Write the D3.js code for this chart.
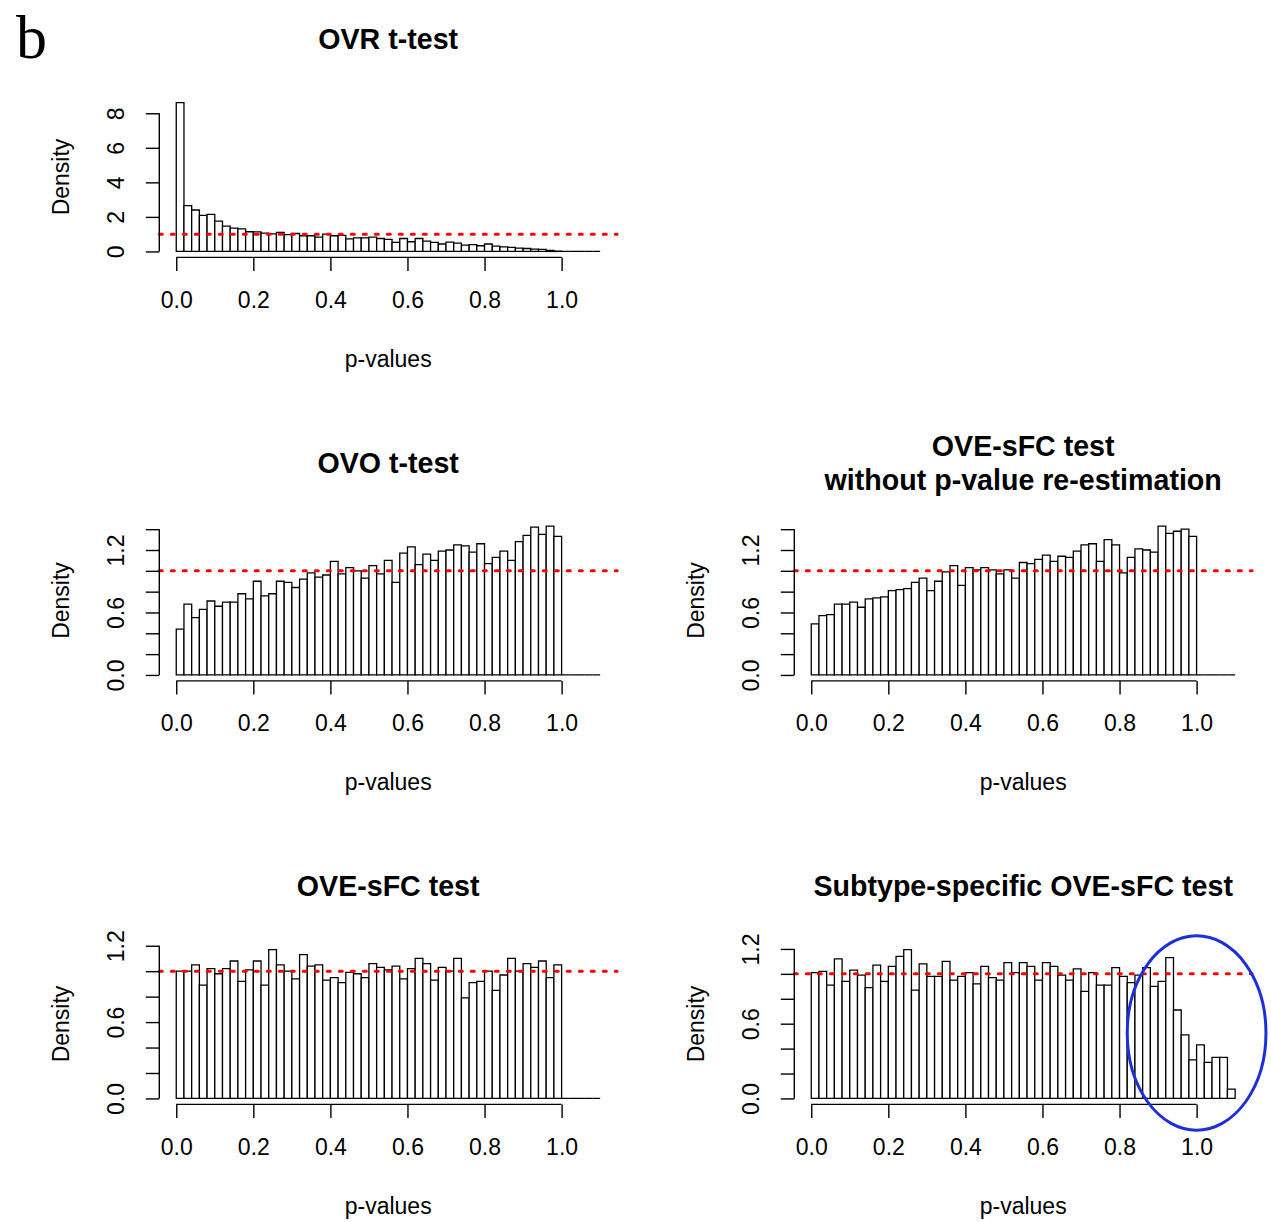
<!DOCTYPE html>
<html>
<head>
<meta charset="utf-8">
<script src="https://cdn.jsdelivr.net/npm/d3@7"></script>
<style>
  body { margin: 0; background: #fff; }
  svg { display: block; }
</style>
</head>
<body>
<svg id="fig" width="1271" height="1222"></svg>
<script>
// Histogram densities of p-values, bins of width 0.02 covering [0, 1.1]
const binWidth = 0.02;

const ovrTtest = [8.62, 2.65, 2.40, 2.09, 2.15, 1.76, 1.47, 1.35, 1.31, 1.14,
  1.13, 1.06, 1.02, 1.10, 0.97, 1.04, 0.91, 0.91, 0.83, 1.00,
  0.91, 0.93, 0.73, 0.79, 0.79, 0.83, 0.75, 0.70, 0.52, 0.75,
  0.56, 0.75, 0.60, 0.52, 0.43, 0.54, 0.48, 0.37, 0.39, 0.33,
  0.43, 0.31, 0.27, 0.23, 0.19, 0.17, 0.14, 0.12, 0.06, 0.02,
  0, 0, 0, 0, 0];

const ovoTtest = [0.44, 0.68, 0.55, 0.63, 0.71, 0.66, 0.70, 0.70, 0.78, 0.73,
  0.90, 0.76, 0.78, 0.90, 0.89, 0.84, 0.92, 0.98, 0.94, 0.96,
  1.09, 0.97, 1.03, 1.00, 0.93, 1.05, 0.97, 1.10, 0.89, 1.17,
  1.23, 1.06, 1.16, 1.10, 1.19, 1.20, 1.25, 1.24, 1.18, 1.26,
  1.07, 1.13, 1.19, 1.10, 1.28, 1.34, 1.42, 1.35, 1.43, 1.33,
  0, 0, 0, 0, 0];

const oveNoReestimation = [0.49, 0.57, 0.58, 0.68, 0.68, 0.70, 0.65, 0.73, 0.74, 0.75,
  0.81, 0.82, 0.83, 0.89, 0.93, 0.81, 0.90, 0.99, 1.05, 0.86,
  1.03, 1.01, 1.03, 1.01, 0.97, 1.01, 0.93, 1.08, 1.07, 1.11,
  1.15, 1.09, 1.14, 1.13, 1.19, 1.25, 1.26, 1.09, 1.30, 1.25,
  0.98, 1.13, 1.21, 1.20, 1.18, 1.43, 1.36, 1.38, 1.40, 1.33,
  0, 0, 0, 0, 0];

const oveSfc = [1.00, 1.00, 1.05, 0.89, 1.02, 0.98, 1.02, 1.08, 0.92, 1.01,
  1.08, 0.89, 1.17, 1.05, 1.00, 0.94, 1.13, 1.04, 1.05, 0.93,
  0.95, 0.91, 0.99, 0.98, 0.95, 1.06, 1.03, 1.01, 1.04, 0.94,
  1.02, 1.10, 1.06, 0.93, 1.03, 1.00, 1.10, 0.79, 0.91, 0.92,
  1.00, 0.85, 0.97, 1.10, 1.00, 1.06, 1.03, 1.08, 0.95, 1.05,
  0, 0, 0, 0, 0];

const subtypeOveSfc = [1.01, 1.02, 0.91, 1.12, 0.94, 1.03, 0.99, 0.89, 1.07, 0.94,
  1.06, 1.14, 1.195, 0.87, 1.08, 0.98, 0.98, 1.10, 0.95, 0.98,
  1.01, 0.92, 1.06, 0.97, 0.95, 1.09, 1.01, 1.09, 1.06, 0.95,
  1.09, 1.06, 0.99, 0.95, 1.04, 0.86, 1.01, 0.91, 0.91, 1.05,
  0.98, 0.93, 0.99, 1.05, 0.90, 0.94, 1.13, 0.71, 0.51, 0.31,
  0.43, 0.29, 0.33, 0.33, 0.075];

// Axis ticks and labels
const xTicks = [0, 0.2, 0.4, 0.6, 0.8, 1.0];
const yTicksOvr = [0, 2, 4, 6, 8];
const yTicksTall = [0, 0.2, 0.4, 0.6, 0.8, 1.0, 1.2, 1.4];
const yTicksShort = [0, 0.2, 0.4, 0.6, 0.8, 1.0, 1.2];
const yLabelledDecimal = [0, 0.6, 1.2];
const referenceDensity = 1;   // uniform density under the null
const xLimit = [0, 1.1];

const panels = [
  { title: ["OVR t-test"], values: ovrTtest, yTicks: yTicksOvr, yLabelled: yTicksOvr, fmt: d3.format("d"), row: 0, col: 0 },
  { title: ["OVO t-test"], values: ovoTtest, yTicks: yTicksTall, yLabelled: yLabelledDecimal, fmt: d3.format(".1f"), row: 1, col: 0 },
  { title: ["OVE-sFC test", "without p-value re-estimation"], values: oveNoReestimation, yTicks: yTicksTall, yLabelled: yLabelledDecimal, fmt: d3.format(".1f"), row: 1, col: 1 },
  { title: ["OVE-sFC test"], values: oveSfc, yTicks: yTicksShort, yLabelled: yLabelledDecimal, fmt: d3.format(".1f"), row: 2, col: 0 },
  { title: ["Subtype-specific OVE-sFC test"], values: subtypeOveSfc, yTicks: yTicksShort, yLabelled: yLabelledDecimal, fmt: d3.format(".1f"), row: 2, col: 1, highlight: true }
];

// Layout of the 3x2 grid of plot regions
const colStep = 635, rowStep = 423.5;
const plotLeft = 159.3, plotRight = 617.1;
const plotTop = 96.6, plotBottom = 257.4;
const tickLen = 13.5;
const sansFont = "'Liberation Sans', Arial, Helvetica, sans-serif";
const axisFontSize = 23, titleFontSize = 28.6;

const svg = d3.select("#fig");

// figure panel letter
svg.append("text")
  .attr("x", 16).attr("y", 58)
  .attr("font-family", "'Liberation Serif', 'Times New Roman', serif")
  .attr("font-size", 62)
  .text("b");

panels.forEach(p => {
  const dx = p.col * colStep, dy = p.row * rowStep;
  const g = svg.append("g").attr("transform", `translate(${dx},${dy})`);

  // R-style axes: 4% padding around the data limits
  const xPad = 0.04 * (xLimit[1] - xLimit[0]);
  const x = d3.scaleLinear().domain([xLimit[0] - xPad, xLimit[1] + xPad]).range([plotLeft, plotRight]);
  const yMax = d3.max(p.values);
  const y = d3.scaleLinear().domain([-0.04 * yMax, 1.04 * yMax]).range([plotBottom, plotTop]);

  // bars (zero-density bins still draw their baseline)
  g.append("g")
    .selectAll("path")
    .data(p.values)
    .join("path")
    .attr("d", (v, i) => {
      const x0 = x(i * binWidth), x1 = x((i + 1) * binWidth);
      return `M${x0},${y(0)}V${y(v)}H${x1}V${y(0)}Z`;
    })
    .attr("fill", "#fff")
    .attr("stroke", "#000")
    .attr("stroke-width", 1.3);

  // dotted reference line at density 1
  g.append("line")
    .attr("x1", plotLeft).attr("x2", plotRight)
    .attr("y1", y(referenceDensity)).attr("y2", y(referenceDensity))
    .attr("stroke", "#ff0000")
    .attr("stroke-width", 3)
    .attr("stroke-dasharray", "3,9")
    .attr("stroke-linecap", "round");

  // x axis
  const xAxisG = g.append("g")
    .attr("transform", `translate(0,${plotBottom})`)
    .call(d3.axisBottom(x).tickValues(xTicks).tickSize(tickLen).tickFormat(d3.format(".1f")));
  xAxisG.select(".domain").remove();
  xAxisG.append("line")
    .attr("x1", x(xTicks[0])).attr("x2", x(xTicks[xTicks.length - 1]))
    .attr("stroke", "#000").attr("stroke-width", 1.4);
  xAxisG.selectAll(".tick line").attr("stroke", "#000").attr("stroke-width", 1.4);
  xAxisG.selectAll(".tick text")
    .attr("y", 50.5).attr("dy", 0)
    .attr("fill", "#000")
    .attr("font-family", sansFont)
    .attr("font-size", axisFontSize);

  // y axis
  const yAxisG = g.append("g")
    .attr("transform", `translate(${plotLeft},0)`)
    .call(d3.axisLeft(y).tickValues(p.yTicks).tickSize(tickLen)
      .tickFormat(d => p.yLabelled.some(v => Math.abs(v - d) < 1e-9) ? p.fmt(d) : ""));
  yAxisG.select(".domain").remove();
  yAxisG.append("line")
    .attr("y1", y(p.yTicks[0])).attr("y2", y(p.yTicks[p.yTicks.length - 1]))
    .attr("stroke", "#000").attr("stroke-width", 1.4);
  yAxisG.selectAll(".tick line").attr("stroke", "#000").attr("stroke-width", 1.4);
  yAxisG.selectAll(".tick text")
    .attr("transform", "rotate(-90)")
    .attr("x", 0).attr("y", -35).attr("dy", 0)
    .attr("text-anchor", "middle")
    .attr("fill", "#000")
    .attr("font-family", sansFont)
    .attr("font-size", axisFontSize);

  const cx = (plotLeft + plotRight) / 2;

  // axis titles
  g.append("text")
    .attr("x", cx).attr("y", 366.5)
    .attr("text-anchor", "middle")
    .attr("font-family", sansFont).attr("font-size", axisFontSize)
    .text("p-values");

  g.append("text")
    .attr("transform", `translate(68.5,${(plotTop + plotBottom) / 2}) rotate(-90)`)
    .attr("text-anchor", "middle")
    .attr("font-family", sansFont).attr("font-size", axisFontSize)
    .text("Density");

  // panel title (one or two lines)
  const baselines = p.title.length === 1 ? [49] : [32, 66];
  p.title.forEach((t, k) => {
    g.append("text")
      .attr("x", cx).attr("y", baselines[k])
      .attr("text-anchor", "middle")
      .attr("font-family", sansFont).attr("font-size", titleFontSize).attr("font-weight", "bold")
      .text(t);
  });

  // emphasis ring around the depleted tail near p = 1
  if (p.highlight) {
    const yCenter = 0.525, ySpan = 0.78;
    g.append("ellipse")
      .attr("cx", x(1.0))
      .attr("cy", y(yCenter))
      .attr("rx", x(0.18) - x(0))
      .attr("ry", y(0) - y(ySpan))
      .attr("fill", "none")
      .attr("stroke", "#1c30d6")
      .attr("stroke-width", 3);
  }
});
</script>
</body>
</html>
